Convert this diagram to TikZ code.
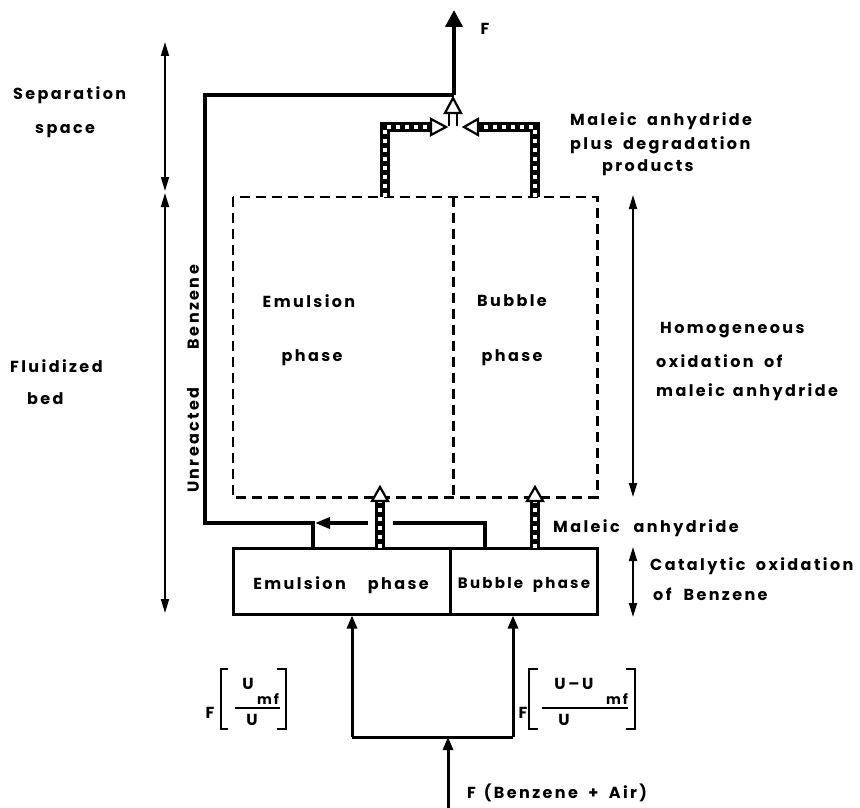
\documentclass[tikz,border=0pt]{standalone}
\usepackage{fontspec}
\setmainfont{Poppins}[LetterSpace=15, WordSpace=1.8]
\usetikzlibrary{arrows.meta}
\begin{document}
\begin{tikzpicture}[x=1pt,y=-1pt,
  lbl/.style={font=\bfseries\fontsize{16}{18}\selectfont, inner sep=0pt},
  sub/.style={font=\bfseries\fontsize{14}{16}\selectfont, inner sep=0pt},
  boxst/.style={draw, line width=3pt, inner sep=0pt},
  dline/.style={line width=2.6pt, dash pattern=on 10pt off 6pt},
  flow/.style={line width=3pt, -{Triangle[length=13pt,width=10pt]}},
  recyc/.style={line width=3.6pt, line join=miter},
  dim/.style={line width=1.8pt, {Triangle[length=14pt,width=8pt]}-{Triangle[length=14pt,width=8pt]}},
  hshaft/.style={line width=10pt, line join=miter, postaction={draw=white, line width=4pt, dash pattern=on 4pt off 5pt}},
  hhead/.style={draw, fill=white, line width=2.2pt, line join=miter},
  brk/.style={line width=2.6pt, line join=miter}]
\useasboundingbox (0,0) rectangle (860,808);

% lower (catalytic) boxes
\node[boxst, minimum width=217pt, minimum height=66pt] (emL) at (341.5,581) {};
\node[boxst, minimum width=147pt, minimum height=66pt] (bbL) at (523.5,581) {};
\node[lbl] (emLt) at (341,585) {Emulsion\hspace{22pt}phase};
\node[lbl, font=\bfseries\fontsize{15}{17}\selectfont] (bbLt) at (524,585) {Bubble phase};

% upper (dashed) boxes
\node[inner sep=0pt, minimum width=220pt, minimum height=300pt] (emU) at (343,347) {};
\node[inner sep=0pt, minimum width=144pt, minimum height=300pt] (bbU) at (525,347) {};
\draw[dline] (emU.north west) rectangle (bbU.south east);
\draw[dline] (emU.north east) -- (emU.south east);
\node[lbl] (emUt1) at (309,301) {Emulsion};
\node[lbl] (emUt2) at (312,358) {phase};
\node[lbl] (bbUt1) at (512,301) {Bubble};
\node[lbl] (bbUt2) at (512,358) {phase};

% feed
\coordinate (feed) at (448,808);
\coordinate (split) at (448,737);
\coordinate (sL) at (352,737);
\coordinate (sR) at (513,737);
\draw[flow] (feed) -- (split);
\draw[line width=3pt, line join=miter] (sL) -- (sR);
\draw[flow] (sL) -- (sL |- emL.south);
\draw[flow] (sR) -- (sR |- bbL.south);
\node[lbl, anchor=west] (feedt) at (467,793) {F\hspace{8pt}(Benzene + Air)};

% flow-split labels
\node[lbl] (fl) at (210,713) {F};
\draw[brk] (228,669) -- (221,669) -- (221,729) -- (228,729);
\draw[brk] (277,669) -- (286,669) -- (286,729) -- (277,729);
\draw[line width=2.2pt] (235,708) -- (280,708);
\node[lbl] (flU) at (248,684) {U};
\node[sub] (flmf) at (268,699) {mf};
\node[lbl] (flD) at (252,720) {U};

\node[lbl] (fr) at (523,713) {F};
\draw[brk] (538,669) -- (529,669) -- (529,729) -- (538,729);
\draw[brk] (626,669) -- (635,669) -- (635,729) -- (626,729);
\draw[line width=2.2pt] (542,708) -- (628,708);
\node[lbl] (frU) at (574,684) {U\,--\,U};
\node[sub] (frmf) at (617,699) {mf};
\node[lbl] (frD) at (564,720) {U};

% recycle of unreacted benzene
\coordinate (r1) at (485,548);
\coordinate (r2) at (313,548);
\coordinate (rc) at (205,523);
\coordinate (top) at (454,95);
\coordinate (outF) at (454,10);
\draw[recyc, -{Triangle[length=15pt,width=11pt]}] (r1) |- (315,523);
\draw[recyc] (r2) |- (rc) |- (top);
\draw[line width=4pt, -{Triangle[length=17pt,width=17pt]}] (top) -- (outF);
\node[lbl] (Ft) at (485,29) {F};
\node[lbl, rotate=90] (unb) at (193,379) {Unreacted\hspace{38pt}Benzene};

% gap for the hatched arrow
\fill[white] (368,514) rectangle (393,532);

% hatched arrows: maleic anhydride
\draw[hshaft] (380,548) -- (380,501);
\draw[hhead] (372,501) -- (388,501) -- (380,487) -- cycle;
\draw[hshaft] (535,548) -- (535,501);
\draw[hhead] (527,501) -- (543,501) -- (535,487) -- cycle;
\node[lbl, anchor=west] (mat) at (553,528) {Maleic\hspace{14pt}anhydride};

% hatched arrows at top
\draw[hshaft] (385,197) |- (431,127);
\draw[hhead] (431,119) -- (431,135) -- (446,127) -- cycle;
\draw[hshaft] (535,197) |- (478,127);
\draw[hhead] (478,119) -- (478,135) -- (464,127) -- cycle;
\draw[hhead] (445,113) -- (461,113) -- (453,98) -- cycle;
\draw[line width=2.2pt] (449,113) -- (449,126) (457,113) -- (457,126);
\node[lbl, anchor=west] (mp1) at (570,121) {Maleic anhydride};
\node[lbl, anchor=west] (mp2) at (570,145) {plus degradation};
\node[lbl, anchor=west] (mp3) at (602,168) {products};

% dimension arrows, left
\draw[dim] (165,42) -- (165,191);
\draw[dim] (165,193) -- (165,613);
\node[lbl, anchor=west] (sep1) at (13,95) {Separation};
\node[lbl, anchor=west] (sep2) at (35,131) {space};
\node[lbl, anchor=west] (fb1) at (10,366) {Fluidized};
\node[lbl, anchor=west] (fb2) at (27,399) {bed};

% dimension arrows, right
\draw[dim] (633,195) -- (633,497);
\draw[dim] (633,547) -- (633,617);
\node[lbl, anchor=west] (ho1) at (660,330) {Homogeneous};
\node[lbl, anchor=west] (ho2) at (656,361) {oxidation of};
\node[lbl, anchor=west] (ho3) at (656,392) {maleic\hspace{8pt}anhydride};
\node[lbl, anchor=west] (ca1) at (650,566) {Catalytic oxidation};
\node[lbl, anchor=west] (ca2) at (653,594) {of\hspace{12pt}Benzene};
\end{tikzpicture}
\end{document}
